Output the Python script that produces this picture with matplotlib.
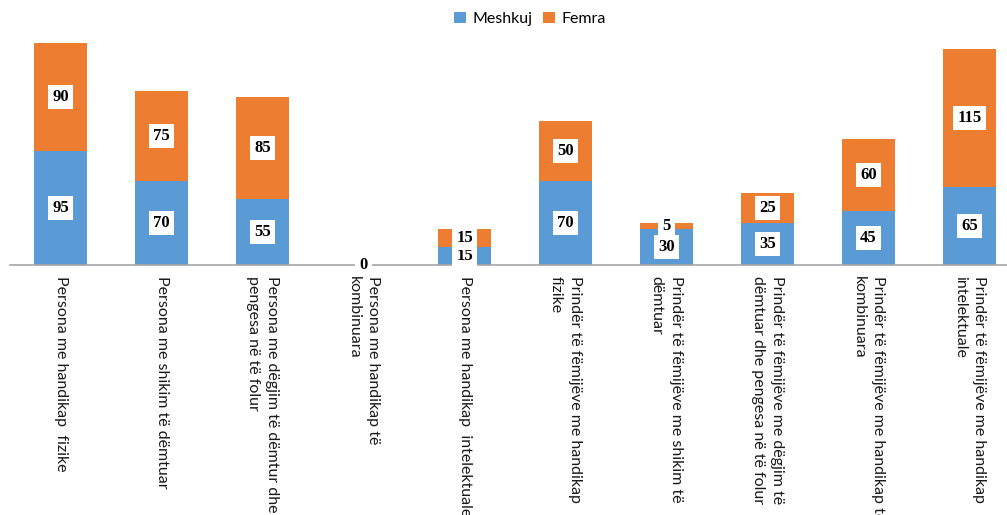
import matplotlib
matplotlib.use("Agg")
import matplotlib.pyplot as plt

categories = [
    "Persona me handikap  fizike",
    "Persona me shikim të dëmtuar",
    "Persona me dëgjim të dëmtur dhe\npengesa në të folur",
    "Persona me handikap të\nkombinuara",
    "Persona me handikap  intelektuale",
    "Prindër të fëmijëve me handikap\nfizike",
    "Prindër të fëmijëve me shikim të\ndëmtuar",
    "Prindër të fëmijëve me dëgjim të\ndëmtuar dhe pengesa në të folur",
    "Prindër të fëmijëve me handikap të\nkombinuara",
    "Prindër të fëmijëve me handikap\nintelektuale",
]
meshkuj = [95, 70, 55, 0, 15, 70, 30, 35, 45, 65]
femra = [90, 75, 85, 0, 15, 50, 5, 25, 60, 115]

blue = "#5B9BD5"
orange = "#ED7D31"

fig = plt.figure(figsize=(10.07, 5.15), dpi=100)
# axes in pixel terms: left 10, right 1007, base line at y=265, top at y=30
ax = fig.add_axes([10 / 1007, 250 / 515, 997 / 1007, 235 / 515])

x = list(range(len(categories)))
ax.bar(x, meshkuj, width=0.515, color=blue, label="Meshkuj", zorder=2)
ax.bar(x, femra, width=0.515, bottom=meshkuj, color=orange, label="Femra", zorder=2)

box = dict(boxstyle="square,pad=0.25", facecolor="white", edgecolor="none")
lab_font = dict(family="Liberation Serif", fontweight="bold", fontsize=12)
for i in x:
    m, f = meshkuj[i], femra[i]
    if m == 0 and f == 0:
        ax.text(i, 0, "0", ha="center", va="center", bbox=box, zorder=3, **lab_font)
        continue
    ax.text(i, m / 2, str(m), ha="center", va="center", bbox=box, zorder=3, **lab_font)
    ax.text(i, m + f / 2, str(f), ha="center", va="center", bbox=box, zorder=3, **lab_font)

ax.set_xlim(-0.5, -0.5 + 997 / 101)
ax.set_ylim(0, 235 / 1.2)
ax.set_yticks([])
ax.set_xticks(x)
ax.set_xticklabels(categories, rotation=270, ha="center", va="top",
                   family="Lato", fontsize=11.5, color="#1a1a1a",
                   multialignment="left", linespacing=1.5)
ax.tick_params(axis="x", length=0, pad=8)
for s in ["top", "right", "left"]:
    ax.spines[s].set_visible(False)
ax.spines["bottom"].set_color("#A6A6A6")
ax.spines["bottom"].set_linewidth(1.2)

fig.legend(loc="center", bbox_to_anchor=(530 / 1007, 1 - 19 / 515), ncol=2,
           frameon=False, handlelength=0.75, handleheight=0.75,
           handletextpad=0.4, columnspacing=0.7,
           prop={"family": "Lato", "size": 11.5})

fig.savefig("out.png", dpi=100)
